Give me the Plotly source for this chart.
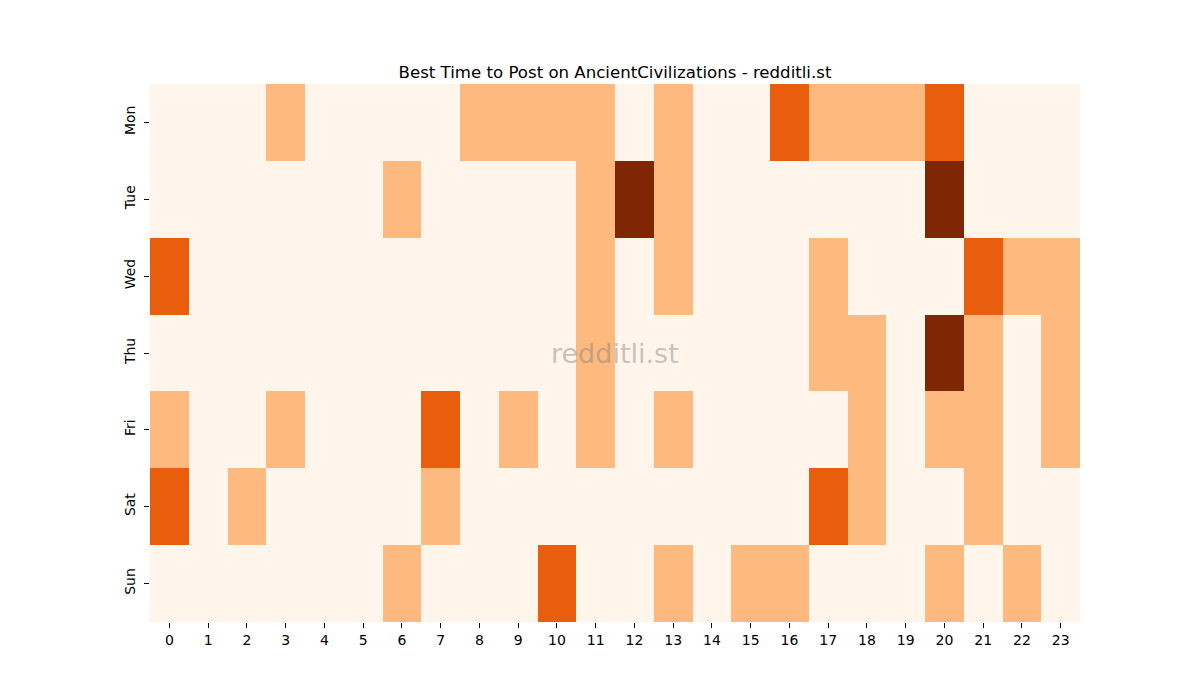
import plotly.graph_objects as go

days = ["Mon", "Tue", "Wed", "Thu", "Fri", "Sat", "Sun"]
hours = list(range(24))

mon = [0,0,0,1,0,0,0,0,1,1,1,1,0,1,0,0,2,1,1,1,2,0,0,0]
tue = [0,0,0,0,0,0,1,0,0,0,0,1,3,1,0,0,0,0,0,0,3,0,0,0]
wed = [2,0,0,0,0,0,0,0,0,0,0,1,0,1,0,0,0,1,0,0,0,2,1,1]
thu = [0,0,0,0,0,0,0,0,0,0,0,1,0,0,0,0,0,1,1,0,3,1,0,1]
fri = [1,0,0,1,0,0,0,2,0,1,0,1,0,1,0,0,0,0,1,0,1,1,0,1]
sat = [2,0,1,0,0,0,0,1,0,0,0,0,0,0,0,0,0,2,1,0,0,1,0,0]
sun = [0,0,0,0,0,0,1,0,0,0,2,0,0,1,0,1,1,0,0,0,1,0,1,0]
z = [mon, tue, wed, thu, fri, sat, sun]

fig = go.Figure(go.Heatmap(
    z=z, x=hours, y=days, zmin=0, zmax=3,
    colorscale=[[0, "#fff5eb"], [1/6, "#fff5eb"], [1/6, "#fdb97e"], [0.5, "#fdb97e"],
                [0.5, "#e95e0d"], [5/6, "#e95e0d"], [5/6, "#7f2704"], [1, "#7f2704"]],
    showscale=False, xgap=0, ygap=0, hoverongaps=False,
))

fig.update_layout(
    width=1200, height=700,
    margin=dict(l=142, r=128, t=76, b=86),
    paper_bgcolor="white", plot_bgcolor="white",
    font=dict(family="DejaVu Sans", size=14, color="black"),
    title=dict(text="Best Time to Post on AncientCivilizations - redditli.st",
               x=0.5, xanchor="center", xref="paper", y=1, yref="paper",
               yanchor="bottom", pad=dict(b=6), font=dict(size=16.6)),
    xaxis=dict(tickmode="array", tickvals=hours, ticktext=[str(h) for h in hours],
               ticks="outside", ticklen=5, tickcolor="black", showgrid=False,
               zeroline=False, showline=False, range=[-0.5, 23.5]),
    yaxis=dict(autorange="reversed", ticks="outside", ticklen=5, tickcolor="black",
               tickangle=-90, ticklabelstandoff=3, showgrid=False, zeroline=False,
               showline=False),
    annotations=[dict(text="redditli.st", x=0.5, y=0.5, xref="paper", yref="paper",
                      showarrow=False, font=dict(size=27, color="rgba(128,128,128,0.45)"))],
)

fig.write_html("out.html")
